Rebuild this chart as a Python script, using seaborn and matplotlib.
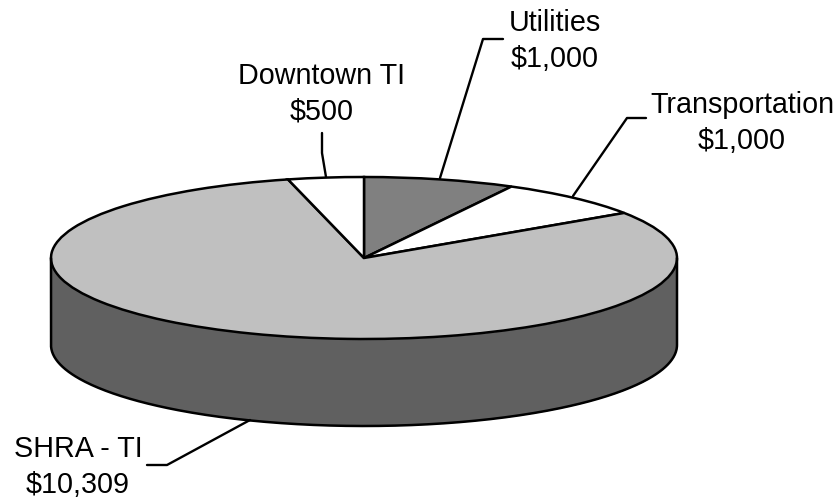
# 3D looking pie chart of funding sources
import matplotlib
matplotlib.use("Agg")
import matplotlib.pyplot as plt
import seaborn as sns
import numpy as np

categories = ["Utilities", "Transportation", "SHRA - TI", "Downtown TI"]
values = [1000, 1000, 10309, 500]
greys = ["#808080", "#FFFFFF", "#C0C0C0", "#FFFFFF"]
side_color = "#606060"

# layout in pixels of the 840x498 picture
W, H = 840, 498
CX, CY = 364, 258
RX, RY = 313, 81
DEPTH = 87
label_pos = [(555, 41), (742, 123), (322, 94), (78, 467)]
leaders = [
    [(503, 39), (483, 39), (440, 178)],
    [(646, 118), (627, 118), (573, 196)],
    [(322, 133), (322, 153), (326, 177)],
    [(147, 465), (167, 465), (250, 420)],
]


def to_data(px, py):
    return (px - CX) / RX, (CY - py) / RY


def main():
    sns.set_theme(style="white")
    plt.rcParams["font.family"] = ["Liberation Sans", "DejaVu Sans"]

    fig = plt.figure(figsize=(W / 100, H / 100), dpi=100)
    ax = fig.add_axes([0, 0, 1, 1])

    # side wall first, the pie top goes over it
    t = np.linspace(np.pi, 2 * np.pi, 300)
    x = np.cos(t)
    drop = DEPTH / RY
    ax.fill_between(x, np.sin(t), np.sin(t) - drop, color=side_color, lw=0)
    # outline as one line so the corners join
    ax.plot(np.r_[-1, x, 1], np.r_[0, np.sin(t) - drop, 0], color="black", lw=1.8,
            solid_joinstyle="round")

    # clockwise from 12 o'clock, same as the original
    ax.pie(values, colors=greys, startangle=90, counterclock=False, radius=1,
           wedgeprops={"edgecolor": "black", "linewidth": 1.8})
    ax.set_aspect("auto")
    ax.set_xlim(to_data(0, 0)[0], to_data(W, 0)[0])
    ax.set_ylim(to_data(0, H)[1], to_data(0, 0)[1])
    ax.axis("off")

    # leader lines and labels
    for pts in leaders:
        d = np.array([to_data(*p) for p in pts])
        ax.plot(d[:, 0], d[:, 1], color="black", lw=1.7)
    order = [0, 1, 3, 2]
    for i, pos in zip(order, label_pos):
        lx, ly = to_data(*pos)
        ax.text(lx, ly, f"{categories[i]}\n${values[i]:,}", ha="center", va="center",
                fontsize=20.7, color="black", linespacing=1.36)

    fig.savefig("out.png", dpi=100)


if __name__ == "__main__":
    main()
